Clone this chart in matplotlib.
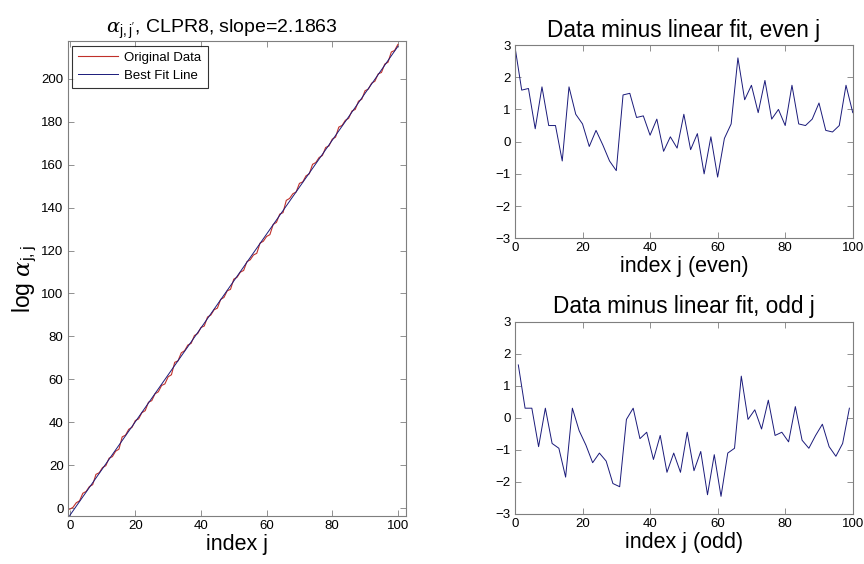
import numpy as np
import matplotlib
matplotlib.use("Agg")
from matplotlib import pyplot as plt

plt.rcParams['font.family'] = ['Liberation Sans', 'DejaVu Sans']
plt.rcParams['mathtext.fontset'] = 'custom'
plt.rcParams['mathtext.rm'] = 'Liberation Sans'
plt.rcParams['mathtext.it'] = 'DejaVu Serif:italic'

# residuals
even_j = np.arange(0, 101, 2)
even_res = [2.95, 1.6, 1.65, 0.4, 1.7, 0.5, 0.5, -0.6, 1.7, 0.85,
            0.55, -0.15, 0.35, -0.1, -0.6, -0.9, 1.45, 1.5, 0.75, 0.8,
            0.2, 0.7, -0.3, 0.15, -0.2, 0.85, -0.25, 0.25, -1.0, 0.15,
            -1.1, 0.1, 0.55, 2.6, 1.3, 1.75, 0.9, 1.9, 0.7, 1.0,
            0.5, 1.75, 0.55, 0.5, 0.7, 1.2, 0.35, 0.3, 0.5, 1.75, 0.9]
odd_j = np.arange(1, 100, 2)
odd_res = [1.65, 0.3, 0.3, -0.9, 0.3, -0.8, -0.95, -1.85, 0.3, -0.4,
           -0.85, -1.4, -1.1, -1.35, -2.05, -2.15, -0.05, 0.3, -0.65, -0.45,
           -1.3, -0.55, -1.7, -1.1, -1.7, -0.45, -1.65, -1.05, -2.4, -1.15,
           -2.45, -1.1, -0.95, 1.3, -0.05, 0.25, -0.35, 0.55, -0.55, -0.45,
           -0.75, 0.35, -0.7, -0.95, -0.55, -0.2, -0.9, -1.2, -0.8, 0.3]

slope = 2.1863
intercept = -3.5

j_all = np.arange(0, 101)
res_all = np.zeros(101)
res_all[even_j] = even_res
res_all[odd_j] = odd_res
fit_line = slope * j_all + intercept
orig_data = fit_line + res_all

red = '#c0302a'
navy = '#1a1a7a'
grey = '#7f7f7f'


def style(ax):
    for s in ax.spines.values():
        s.set_color(grey)
        s.set_linewidth(0.8)
    ax.tick_params(direction='in', top=True, right=True, length=4,
                   width=0.6, color=grey, labelsize=9.5, pad=3)


fig = plt.figure(figsize=(8.64, 5.64), dpi=100)

ax1 = fig.add_axes([0.0784, 0.0851, 0.3916, 0.842])
ax1.plot(j_all, orig_data, color=red, lw=0.8, label='Original Data')
ax1.plot(j_all, fit_line, color=navy, lw=0.7, label='Best Fit Line')
ax1.set_xlim(-0.6, 102.5)
ax1.set_ylim(-3.7, 217.6)
ax1.set_xticks(range(0, 101, 20))
ax1.set_yticks(range(0, 201, 20))
ax1.set_xlabel('index j', fontsize=15.5, labelpad=1)
ax1.set_ylabel(r'log $\alpha_{\mathrm{j,j}}$', fontsize=16.5, labelpad=2)
ax1.set_title(r"$\alpha_{\mathrm{j,j'}}$, CLPR8, slope=%.4f" % slope,
              fontsize=14, pad=6, x=0.455)
leg = ax1.legend(loc='upper left', fontsize=9.5, frameon=True, fancybox=False,
                 borderaxespad=0.35, handlelength=3.0, borderpad=0.45,
                 labelspacing=0.45, handletextpad=0.5)
leg.get_frame().set_edgecolor('black')
leg.get_frame().set_linewidth(0.8)
style(ax1)

ax2 = fig.add_axes([0.596, 0.5775, 0.391, 0.3427])
ax2.plot(even_j, even_res, color=navy, lw=0.7)
ax2.set_xlim(0, 100)
ax2.set_ylim(-3, 3)
ax2.set_xticks(range(0, 101, 20))
ax2.set_yticks(range(-3, 4))
ax2.set_xlabel('index j (even)', fontsize=15.5, labelpad=1)
ax2.set_title('Data minus linear fit, even j', fontsize=16.3, pad=6)
style(ax2)

ax3 = fig.add_axes([0.596, 0.0887, 0.391, 0.341])
ax3.plot(odd_j, odd_res, color=navy, lw=0.7)
ax3.set_xlim(0, 100)
ax3.set_ylim(-3, 3)
ax3.set_xticks(range(0, 101, 20))
ax3.set_yticks(range(-3, 4))
ax3.set_xlabel('index j (odd)', fontsize=15.5, labelpad=1)
ax3.set_title('Data minus linear fit, odd j', fontsize=16.3, pad=6)
style(ax3)

fig.savefig('out.png', dpi=100)
